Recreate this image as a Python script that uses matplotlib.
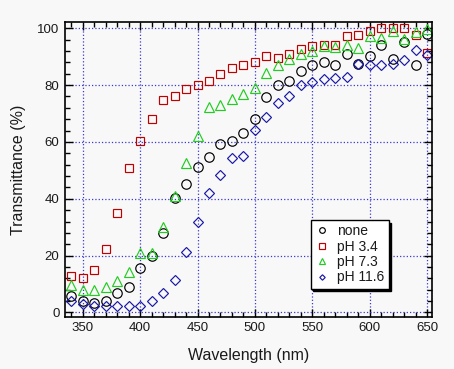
import matplotlib
matplotlib.use("Agg")
import matplotlib.pyplot as plt
from matplotlib.ticker import MultipleLocator

plt.rcParams['font.family'] = ['Liberation Sans', 'DejaVu Sans']

# wavelengths (nm)
wavelength = [340, 350, 360, 370, 380, 390, 400, 410, 420, 430, 440, 450, 460, 470, 480, 490,
              500, 510, 520, 530, 540, 550, 560, 570, 580, 590, 600, 610, 620, 630, 640, 650]

# transmittance (%)
t_none = [5.7, 4.1, 3.5, 3.9, 7.0, 9.0, 15.8, 19.9, 28.0, 40.1, 45.1, 51.2, 54.6, 59.3, 60.3, 63.0,
          68.1, 75.9, 80.1, 81.4, 85.1, 87.1, 88.1, 87.0, 91.0, 87.4, 90.2, 94.0, 89.1, 95.2, 87.1, 97.9]
t_ph34 = [13.0, 12.0, 14.8, 22.2, 34.9, 50.7, 60.2, 68.0, 74.6, 76.1, 78.6, 79.9, 81.6, 83.9, 85.9, 87.1,
          88.0, 90.2, 89.7, 90.9, 92.6, 93.8, 94.1, 94.1, 97.3, 97.7, 99.0, 100.0, 100.0, 100.0, 97.7, 91.2]
t_ph73 = [9.6, 7.9, 8.0, 8.8, 10.9, 14.4, 21.0, 21.0, 29.9, 41.1, 52.5, 62.2, 72.4, 73.0, 75.2, 76.9,
          79.1, 84.2, 87.0, 89.1, 91.0, 92.1, 93.9, 93.3, 94.1, 93.0, 97.3, 96.5, 99.0, 96.1, 98.8, 99.6]
t_ph116 = [4.1, 2.8, 2.3, 2.2, 2.1, 2.1, 2.2, 4.0, 6.7, 11.3, 21.1, 31.7, 41.9, 48.3, 54.2, 55.1,
           64.2, 68.9, 73.6, 76.3, 80.0, 81.2, 82.1, 82.4, 83.0, 87.4, 87.1, 87.1, 87.4, 88.8, 92.4, 90.6]

bg = '#f8f8f8'
txt = '#1a1a1a'
fig = plt.figure(figsize=(4.54, 3.69), dpi=100, facecolor=bg)
ax = fig.add_axes([0.1432, 0.1417, 0.8077, 0.7987], facecolor=bg)

mk = dict(linestyle='none', markerfacecolor='none', markeredgewidth=0.85)
ax.plot(wavelength, t_none, marker='o', markersize=6.8, markeredgecolor='black', label='none', **mk)
ax.plot(wavelength, t_ph34, marker='s', markersize=6.3, markeredgecolor='#c00000', label='pH 3.4', **mk)
ax.plot(wavelength, t_ph73, marker='^', markersize=7.0, markeredgecolor='#22cc22', label='pH 7.3', **mk)
ax.plot(wavelength, t_ph116, marker='D', markersize=4.6, markeredgecolor='#1818a8', label='pH 11.6', **mk)

ax.set_xlim(334.6, 654)
ax.set_ylim(-1.5, 102.2)
ax.xaxis.set_major_locator(MultipleLocator(50))
ax.xaxis.set_minor_locator(MultipleLocator(10))
ax.yaxis.set_major_locator(MultipleLocator(20))
ax.yaxis.set_minor_locator(MultipleLocator(4))
ax.tick_params(which='both', direction='in', top=True, right=True, width=1.0,
               labelsize=9.5, pad=4, labelcolor=txt)
ax.tick_params(which='major', length=6)
ax.tick_params(which='minor', length=3.5)
ax.grid(True, which='major', linestyle=':', color='#3a3acc', linewidth=0.9)
for s in ax.spines.values():
    s.set_linewidth(1.2)

ax.set_xlabel('Wavelength (nm)', fontsize=11.5, labelpad=10, color=txt)
ax.set_ylabel('Transmittance (%)', fontsize=11.5, labelpad=8, color=txt)

leg = ax.legend(loc='upper left', bbox_to_anchor=(0.67, 0.328), borderaxespad=0, fontsize=10,
                markerscale=0.6, frameon=True, fancybox=False,
                shadow={'color': 'black', 'alpha': 1.0}, handlelength=1.0,
                handletextpad=0.6, labelspacing=0.1, borderpad=0.3, framealpha=1)
leg.get_frame().set_edgecolor('black')
leg.get_frame().set_facecolor('white')
leg.get_frame().set_linewidth(1.0)
for t in leg.get_texts():
    t.set_color(txt)

fig.savefig('out.png', dpi=100, facecolor=bg)
